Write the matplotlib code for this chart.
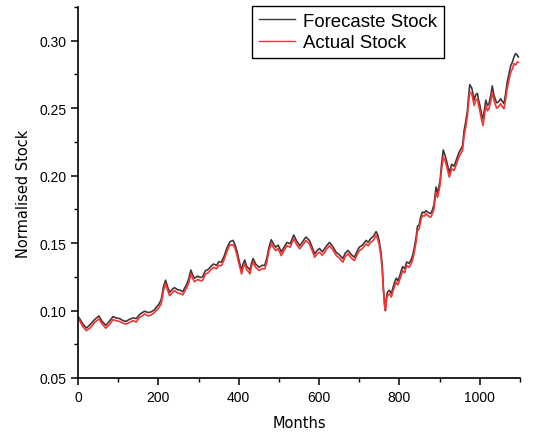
import matplotlib
matplotlib.use("Agg")
import matplotlib.pyplot as plt
from matplotlib.ticker import MultipleLocator

months = [0, 4, 12, 21, 30, 42, 52, 60, 69, 78, 87, 95, 104, 112, 120, 128, 137, 145, 153, 160,
          166, 174, 182, 190, 195, 201, 207, 213, 218, 223, 228, 234, 240, 248, 255, 261, 265, 269, 275, 281,
          285, 290, 298, 304, 310, 317, 324, 330, 337, 345, 350, 357, 364, 370, 378, 386, 391, 396, 402, 407,
          411, 415, 420, 424, 428, 432, 436, 442, 451, 458, 465, 470, 475, 481, 486, 492, 498, 506, 512, 520,
          528, 537, 544, 552, 560, 567, 576, 582, 589, 595, 601, 608, 614, 620, 626, 634, 643, 650, 659, 665,
          672, 680, 688, 694, 700, 708, 717, 722, 729, 735, 742, 746, 750, 754, 757, 760, 763, 765, 767, 770,
          775, 780, 783, 788, 792, 796, 800, 804, 808, 813, 818, 824, 829, 833, 837, 841, 845, 849, 853, 857,
          862, 866, 872, 878, 882, 886, 891, 895, 901, 905, 909, 915, 920, 924, 930, 936, 942, 948, 957, 961,
          965, 969, 972, 975, 980, 986, 990, 994, 997, 1000, 1004, 1008, 1012, 1015, 1019, 1023, 1027, 1031, 1035, 1038,
          1042, 1046, 1052, 1056, 1060, 1064, 1068, 1072, 1077, 1081, 1085, 1089, 1093, 1096]

actual = [0.0945, 0.0925, 0.0880, 0.0851, 0.0870, 0.0913, 0.0938, 0.0900, 0.0869, 0.0895,
          0.0932, 0.0925, 0.0918, 0.0905, 0.0900, 0.0912, 0.0925, 0.0915, 0.0950, 0.0960,
          0.0975, 0.0960, 0.0967, 0.0985, 0.1000, 0.1020, 0.1050, 0.1150, 0.1197, 0.1150,
          0.1110, 0.1130, 0.1148, 0.1130, 0.1125, 0.1116, 0.1140, 0.1160, 0.1200, 0.1270,
          0.1240, 0.1214, 0.1230, 0.1222, 0.1222, 0.1270, 0.1280, 0.1300, 0.1320, 0.1310,
          0.1335, 0.1333, 0.1380, 0.1433, 0.1487, 0.1487, 0.1460, 0.1407, 0.1330, 0.1271,
          0.1320, 0.1346, 0.1300, 0.1290, 0.1271, 0.1330, 0.1358, 0.1320, 0.1296, 0.1310,
          0.1309, 0.1360, 0.1440, 0.1494, 0.1470, 0.1444, 0.1460, 0.1407, 0.1440, 0.1481,
          0.1470, 0.1531, 0.1490, 0.1457, 0.1490, 0.1519, 0.1494, 0.1450, 0.1395, 0.1420,
          0.1433, 0.1410, 0.1433, 0.1460, 0.1481, 0.1450, 0.1407, 0.1390, 0.1358, 0.1400,
          0.1420, 0.1390, 0.1370, 0.1410, 0.1444, 0.1460, 0.1494, 0.1480, 0.1507, 0.1520,
          0.1556, 0.1530, 0.1481, 0.1400, 0.1309, 0.1150, 0.1036, 0.1000, 0.1060, 0.1110,
          0.1123, 0.1100, 0.1136, 0.1180, 0.1210, 0.1190, 0.1222, 0.1260, 0.1296, 0.1280,
          0.1333, 0.1320, 0.1346, 0.1380, 0.1433, 0.1500, 0.1593, 0.1605, 0.1667, 0.1704,
          0.1700, 0.1717, 0.1700, 0.1692, 0.1720, 0.1754, 0.1878, 0.1840, 0.1927, 0.2050,
          0.2137, 0.2100, 0.2040, 0.1989, 0.2050, 0.2038, 0.2088, 0.2137, 0.2186, 0.2297,
          0.2360, 0.2440, 0.2540, 0.2620, 0.2607, 0.2520, 0.2560, 0.2570, 0.2520, 0.2483,
          0.2420, 0.2372, 0.2460, 0.2520, 0.2480, 0.2496, 0.2550, 0.2620, 0.2560, 0.2533,
          0.2500, 0.2508, 0.2533, 0.2510, 0.2496, 0.2560, 0.2644, 0.2700, 0.2768, 0.2790,
          0.2830, 0.2820, 0.2842, 0.2840]

forecast = [0.0955, 0.0940, 0.0900, 0.0870, 0.0895, 0.0935, 0.0960, 0.0920, 0.0890, 0.0920,
            0.0955, 0.0945, 0.0940, 0.0925, 0.0920, 0.0935, 0.0945, 0.0940, 0.0970, 0.0985,
            0.0995, 0.0985, 0.0990, 0.1005, 0.1025, 0.1045, 0.1080, 0.1180, 0.1225, 0.1175,
            0.1135, 0.1155, 0.1170, 0.1155, 0.1150, 0.1140, 0.1165, 0.1185, 0.1230, 0.1300,
            0.1265, 0.1240, 0.1255, 0.1245, 0.1250, 0.1295, 0.1305, 0.1325, 0.1345, 0.1335,
            0.1360, 0.1360, 0.1405, 0.1460, 0.1510, 0.1520, 0.1485, 0.1435, 0.1355, 0.1300,
            0.1345, 0.1375, 0.1325, 0.1315, 0.1300, 0.1355, 0.1385, 0.1345, 0.1320, 0.1335,
            0.1335, 0.1390, 0.1465, 0.1525, 0.1495, 0.1470, 0.1485, 0.1435, 0.1465, 0.1505,
            0.1495, 0.1560, 0.1515, 0.1480, 0.1515, 0.1545, 0.1520, 0.1475, 0.1420, 0.1445,
            0.1460, 0.1435, 0.1460, 0.1485, 0.1505, 0.1475, 0.1430, 0.1415, 0.1385, 0.1425,
            0.1445, 0.1415, 0.1395, 0.1435, 0.1470, 0.1485, 0.1520, 0.1505, 0.1535, 0.1550,
            0.1585, 0.1560, 0.1510, 0.1430, 0.1340, 0.1170, 0.1050, 0.1000, 0.1080, 0.1135,
            0.1150, 0.1125, 0.1160, 0.1210, 0.1240, 0.1220, 0.1250, 0.1290, 0.1325, 0.1310,
            0.1360, 0.1350, 0.1375, 0.1410, 0.1465, 0.1535, 0.1625, 0.1635, 0.1695, 0.1730,
            0.1725, 0.1740, 0.1725, 0.1720, 0.1745, 0.1785, 0.1915, 0.1870, 0.1960, 0.2090,
            0.2190, 0.2135, 0.2075, 0.2020, 0.2085, 0.2070, 0.2120, 0.2170, 0.2220, 0.2335,
            0.2400, 0.2480, 0.2585, 0.2675, 0.2650, 0.2560, 0.2600, 0.2610, 0.2560, 0.2525,
            0.2460, 0.2420, 0.2500, 0.2560, 0.2520, 0.2535, 0.2590, 0.2665, 0.2600, 0.2570,
            0.2540, 0.2545, 0.2570, 0.2550, 0.2535, 0.2600, 0.2690, 0.2745, 0.2815, 0.2840,
            0.2880, 0.2905, 0.2895, 0.2880]

fig = plt.figure(figsize=(5.38, 4.39), dpi=100)
ax = fig.add_axes([0.145, 0.1367, 0.8215, 0.845])

ax.plot(months, forecast, color="#3a3a3a", lw=1.2, label="Forecaste Stock")
ax.plot(months, actual, color="#ff3030", lw=1.2, label="Actual Stock")

ax.set_xlim(0, 1100)
ax.set_ylim(0.05, 0.325)
ax.xaxis.set_major_locator(MultipleLocator(200))
ax.xaxis.set_minor_locator(MultipleLocator(100))
ax.yaxis.set_major_locator(MultipleLocator(0.05))
ax.yaxis.set_minor_locator(MultipleLocator(0.025))
ax.set_yticks([0.05, 0.10, 0.15, 0.20, 0.25, 0.30])
ax.set_yticklabels(["0.05", "0.10", "0.15", "0.20", "0.25", "0.30"])

for s in ["top", "right"]:
    ax.spines[s].set_visible(False)
for s in ["left", "bottom"]:
    ax.spines[s].set_linewidth(1.2)

ax.tick_params(which="major", direction="out", length=5, width=1.1, labelsize=10)
ax.tick_params(which="minor", direction="out", length=3, width=1.0)
for lab in ax.get_xticklabels() + ax.get_yticklabels():
    lab.set_fontfamily("Liberation Sans")

ax.set_xlabel("Months", fontsize=10.5, fontfamily="DejaVu Sans", labelpad=8)
ax.set_ylabel("Normalised Stock", fontsize=10.5, fontfamily="DejaVu Sans", labelpad=6)

leg = ax.legend(loc="upper left", bbox_to_anchor=(252 / 538, 1 - 7 / 439),
                bbox_transform=fig.transFigure, borderaxespad=0,
                prop={"family": "Liberation Sans", "size": 13.4},
                fancybox=False, framealpha=1, edgecolor="black",
                handlelength=1.95, handletextpad=0.43, borderpad=0.36,
                labelspacing=0.25)
leg.get_frame().set_linewidth(1.0)
leg.get_lines()[0].set_linewidth(1.0)
leg.get_lines()[1].set_linewidth(1.0)

fig.savefig("out.png", dpi=100)
